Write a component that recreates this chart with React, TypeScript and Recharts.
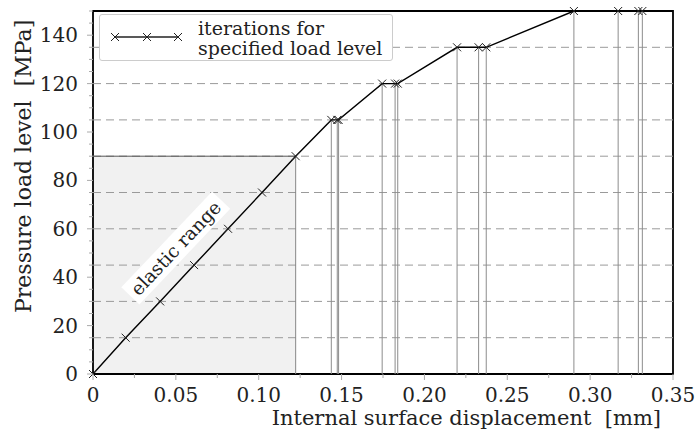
import { ComposedChart, Line, XAxis, YAxis, ReferenceArea, ReferenceLine, ReferenceDot, Legend } from 'recharts';

// iterations: displacement [mm] and pressure load level [MPa]
const displacement = [
  0, 0.0197, 0.0405, 0.061, 0.0815, 0.102, 0.1223,
  0.1438, 0.1474, 0.1482,
  0.1745, 0.1823, 0.1839,
  0.2197, 0.2327, 0.2373,
  0.2902, 0.3169, 0.3291, 0.3315,
];
const loadLevel = [
  0, 15, 30, 45, 60, 75, 90,
  105, 105, 105,
  120, 120, 120,
  135, 135, 135,
  150, 150, 150, 150,
];

const elasticDisp = 0.1223;
const elasticLoad = 90;
const loadSteps = [15, 30, 45, 60, 75, 90, 105, 120, 135];

const xTicks = [0, 0.025, 0.05, 0.075, 0.1, 0.125, 0.15, 0.175, 0.2, 0.225, 0.25, 0.275, 0.3, 0.325, 0.35];
const xLabelled = [0, 0.05, 0.1, 0.15, 0.2, 0.25, 0.3, 0.35];
const yTicks = [0, 5, 10, 15, 20, 25, 30, 35, 40, 45, 50, 55, 60, 65, 70, 75, 80, 85, 90, 95, 100, 105, 110, 115, 120, 125, 130, 135, 140, 145, 150];
const yLabelled = [0, 20, 40, 60, 80, 100, 120, 140];

const data = displacement.map((x, i) => ({ x, y: loadLevel[i] }));
const plastic = data.filter((d) => d.y > elasticLoad);

const FONT = '"DejaVu Serif", serif';
const TEXT = '#222';
const PLOT_LEFT = 93;
const PLOT_BOTTOM = 374;

const XMark = ({ cx, cy, s = 4 }: { cx: number; cy: number; s?: number }) => (
  <g stroke="#222" strokeWidth={1}>
    <line x1={cx - s} y1={cy - s} x2={cx + s} y2={cy + s} />
    <line x1={cx - s} y1={cy + s} x2={cx + s} y2={cy - s} />
  </g>
);

const XTick = (props: any) => {
  const v = props.payload.value;
  const cx = props.payload.coordinate;
  const major = xLabelled.includes(v);
  return (
    <g>
      <line x1={cx} x2={cx} y1={PLOT_BOTTOM} y2={PLOT_BOTTOM + (major ? 6 : 4)} stroke="#aaa" />
      {major && (
        <text x={cx} y={PLOT_BOTTOM + 28} textAnchor="middle" fontFamily={FONT} fontSize={20} fill={TEXT}>
          {v === 0 ? '0' : v.toFixed(2)}
        </text>
      )}
    </g>
  );
};

const YTick = (props: any) => {
  const v = props.payload.value;
  const cy = props.payload.coordinate;
  const major = yLabelled.includes(v);
  return (
    <g>
      <line x1={PLOT_LEFT - (major ? 6 : 4)} x2={PLOT_LEFT} y1={cy} y2={cy} stroke="#aaa" />
      {major && (
        <text x={PLOT_LEFT - 15} y={cy + 7} textAnchor="end" fontFamily={FONT} fontSize={20} fill={TEXT}>
          {v}
        </text>
      )}
    </g>
  );
};

const LegendBox = () => (
  <div
    style={{
      boxSizing: 'border-box',
      border: '1px solid #ccc',
      borderRadius: 3,
      background: '#fff',
      width: 294,
      height: 47,
      display: 'flex',
      alignItems: 'center',
      fontFamily: FONT,
      fontSize: 19,
      lineHeight: '20px',
      color: TEXT,
      whiteSpace: 'nowrap',
    }}
  >
    <svg width={98} height={45} style={{ flex: 'none' }}>
      <line x1={15} x2={78} y1={22} y2={22} stroke="#222" strokeWidth={1.3} />
      <XMark cx={15} cy={22} />
      <XMark cx={47} cy={22} />
      <XMark cx={78} cy={22} />
    </svg>
    <div>
      iterations for
      <br />
      specified load level
    </div>
  </div>
);

const ElasticLabel = (props: any) => {
  const { cx, cy } = props;
  return (
    <g transform={`translate(${cx},${cy}) rotate(-46.5)`}>
      <rect x={-66} y={-14} width={132} height={25} fill="#fff" />
      <text x={0} y={5} textAnchor="middle" fontFamily={FONT} fontSize={18.5} fill={TEXT}>
        elastic range
      </text>
    </g>
  );
};

export default function App() {
  return (
    <div style={{ position: 'absolute', left: 0, top: 0, background: '#fff' }}>
      <ComposedChart width={699} height={440} data={data} margin={{ top: 11, right: 26, bottom: 0, left: 0 }}>
        <XAxis
          type="number"
          dataKey="x"
          domain={[0, 0.35]}
          ticks={xTicks}
          interval={0}
          height={66}
          axisLine={false}
          tickLine={false}
          tick={XTick}
          label={{
            content: () => (
              <text x={661} y={425} textAnchor="end" fontFamily={FONT} fontSize={21} fill={TEXT} style={{ whiteSpace: 'pre' }}>
                {'Internal surface displacement  [mm]'}
              </text>
            ),
          }}
        />
        <YAxis
          type="number"
          domain={[0, 150]}
          ticks={yTicks}
          interval={0}
          width={93}
          axisLine={false}
          tickLine={false}
          tick={YTick}
          label={{
            content: () => (
              <text
                transform="translate(31,313) rotate(-90)"
                textAnchor="start"
                fontFamily={FONT}
                fontSize={22}
                fill={TEXT}
                style={{ whiteSpace: 'pre' }}
              >
                {'Pressure load level  [MPa]'}
              </text>
            ),
          }}
        />
        <ReferenceArea x1={0} x2={elasticDisp} y1={0} y2={elasticLoad} fill="#f1f1f1" fillOpacity={1} stroke="none" />
        {loadSteps.map((v) => (
          <ReferenceLine key={`g${v}`} y={v} stroke="#9a9a9a" strokeDasharray="8 5" />
        ))}
        <ReferenceLine segment={[{ x: 0, y: elasticLoad }, { x: elasticDisp, y: elasticLoad }]} stroke="#555" />
        <ReferenceLine segment={[{ x: elasticDisp, y: 0 }, { x: elasticDisp, y: elasticLoad }]} stroke="#888" />
        {plastic.map((d, i) => (
          <ReferenceLine key={`v${i}`} segment={[{ x: d.x, y: 0 }, { x: d.x, y: d.y }]} stroke="#8c8c8c" />
        ))}
        <ReferenceArea x1={0} x2={0.35} y1={0} y2={150} fill="none" stroke="#000" strokeWidth={1.8} />
        <ReferenceDot x={0.0506} y={51.6} r={0} shape={ElasticLabel} />
        <Line
          type="linear"
          dataKey="y"
          name="iterations for specified load level"
          stroke="#000"
          strokeWidth={1.4}
          isAnimationActive={false}
          dot={(p: any) => <XMark key={`d${p.index}`} cx={p.cx} cy={p.cy} />}
          activeDot={false}
        />
        <Legend
          content={LegendBox}
          layout="horizontal"
          align="center"
          verticalAlign="middle"
          wrapperStyle={{ position: 'absolute', left: 99, top: 14, width: 'auto', height: 'auto' }}
        />
      </ComposedChart>
    </div>
  );
}
